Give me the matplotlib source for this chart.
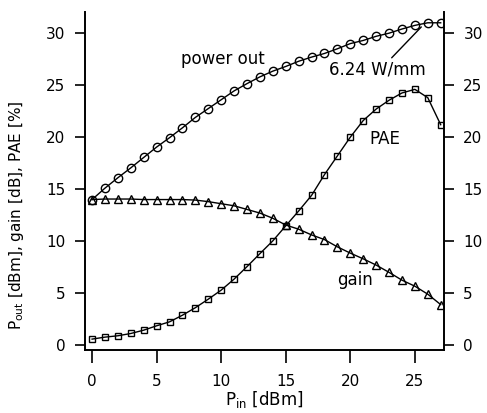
import numpy as np
import matplotlib.pyplot as plt

plt.rcParams['font.family'] = ['DejaVu Sans']

# giriş gücü (dBm)
p_in = list(range(28))

# çıkış gücü (dBm)
p_out = [14.0, 15.1, 16.1, 17.05, 18.05, 19.05, 19.95, 20.9, 21.9, 22.75,
         23.6, 24.45, 25.15, 25.8, 26.35, 26.8, 27.3, 27.7, 28.05, 28.5,
         29.0, 29.3, 29.7, 30.0, 30.4, 30.75, 31.0, 31.0]

# kazanç (dB)
gain = [14.0, 14.05, 14.05, 14.05, 14.0, 14.0, 14.0, 14.0, 13.95, 13.8,
        13.6, 13.4, 13.05, 12.7, 12.2, 11.55, 11.15, 10.6, 10.15, 9.45,
        8.85, 8.3, 7.7, 7.0, 6.25, 5.67, 4.9, 3.9]

# PAE (%)
pae = [0.58, 0.77, 0.9, 1.12, 1.44, 1.86, 2.24, 2.88, 3.6, 4.42,
       5.29, 6.35, 7.55, 8.8, 10.03, 11.47, 12.9, 14.4, 16.4, 18.2,
       20.0, 21.6, 22.7, 23.55, 24.25, 24.6, 23.8, 21.2]

yticks = [0, 5, 10, 15, 20, 25, 30]
xticks = [0, 5, 10, 15, 20, 25]

fig = plt.figure(figsize=(4.87, 4.13), dpi=100)
ax = fig.add_axes([0.1745, 0.153, 0.737, 0.817])

stil = dict(color='black', lw=1.0, mfc='none', mec='black', mew=1.0)
ax.plot(p_in, p_out, marker='o', ms=6, **stil)
ax.plot(p_in, gain, marker='^', ms=5.5, **stil)
ax.plot(p_in, pae, marker='s', ms=5, **stil)

ax.set_xlim(-0.55, 27.25)
ax.set_ylim(-0.45, 32.0)
ax.set_xticks(xticks)
ax.set_yticks(yticks)

ax.spines['top'].set_visible(False)
for s in ['left', 'right', 'bottom']:
    ax.spines[s].set_linewidth(1.4)

ax.tick_params(axis='y', direction='out', length=7, width=1.2,
               labelsize=11, pad=7, right=True, labelright=True)
ax.tick_params(axis='x', direction='out', length=9.5, width=1.2,
               labelsize=11, pad=8)

ax.set_xlabel('P$_{\\mathrm{in}}$ [dBm]', fontsize=12, labelpad=0)
ax.set_ylabel('P$_{\\mathrm{out}}$ [dBm], gain [dB], PAE [%]', fontsize=11)
ax.yaxis.set_label_coords(-0.165, 0.40)

# etiketler
ax.text(10.1, 27.5, 'power out', fontsize=12, ha='center', va='center')
ax.text(22.7, 19.8, 'PAE', fontsize=12, ha='center', va='center')
ax.text(20.4, 6.3, 'gain', fontsize=12, ha='center', va='center')
ax.annotate('6.24 W/mm', xy=(25.5, 30.6), xytext=(22.1, 26.5),
            fontsize=12, ha='center', va='center',
            arrowprops=dict(arrowstyle='-', color='black', lw=1.0,
                            shrinkA=0, shrinkB=0,
                            relpos=(0.62, 1.0)))

fig.savefig('out.png', dpi=100)
